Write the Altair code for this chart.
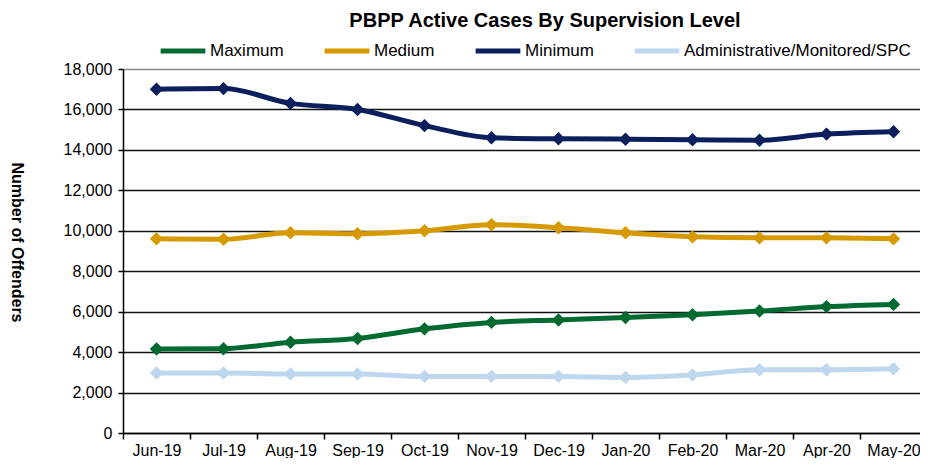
import altair as alt
import pandas as pd

months = ["Jun-19", "Jul-19", "Aug-19", "Sep-19", "Oct-19", "Nov-19",
          "Dec-19", "Jan-20", "Feb-20", "Mar-20", "Apr-20", "May-20"]
maximum = [4150, 4170, 4490, 4670, 5150, 5470, 5590, 5710, 5850, 6030, 6250, 6360]
medium = [9600, 9580, 9900, 9850, 10000, 10300, 10150, 9900, 9700, 9650, 9650, 9600]
minimum = [17000, 17030, 16300, 16000, 15200, 14600, 14550, 14530, 14500, 14480, 14780, 14900]
admin = [2970, 2970, 2920, 2920, 2800, 2800, 2800, 2750, 2870, 3130, 3130, 3180]

series_names = ["Maximum", "Medium", "Minimum", "Administrative/Monitored/SPC"]
line_colors = ["#006A30", "#D69A00", "#0B1F5C", "#BDD7EE"]
y_ticks = [0, 2000, 4000, 6000, 8000, 10000, 12000, 14000, 16000, 18000]

rows = []
for name, vals in zip(series_names, [maximum, medium, minimum, admin]):
    for m, v in zip(months, vals):
        rows.append({"Month": m, "Level": name, "Offenders": v})
df = pd.DataFrame(rows)

FONT = "Liberation Sans"

x_enc = alt.X(
    "Month:N", sort=months, bandPosition=0.5,
    scale=alt.Scale(type="band", paddingInner=0, paddingOuter=0),
    axis=alt.Axis(title=None, tickBand="extent", grid=False, labelAngle=0,
                  labelFontSize=16, labelFont=FONT, labelColor="black",
                  domainColor="black", domainWidth=1.5, tickColor="black",
                  tickWidth=1.5, tickSize=6, labelPadding=3),
)
y_enc = alt.Y(
    "Offenders:Q",
    scale=alt.Scale(domain=[0, 18000], nice=False),
    axis=alt.Axis(values=y_ticks, format=",.0f", title="Number of Offenders",
                  titleAngle=90, titleX=-115, titleY=173, titleFontSize=16,
                  titleFont=FONT, titleFontWeight="bold", titleColor="black",
                  labelFontSize=16, labelFont=FONT, labelColor="black",
                  labelPadding=6, domainColor="black", domainWidth=1.5,
                  tickColor="black", tickWidth=1.5, tickSize=5,
                  gridColor={"condition": {"test": "datum.value == 18000", "value": "#888888"},
                             "value": "#111111"},
                  gridWidth=1.5),
)
color_scale = alt.Scale(domain=series_names, range=line_colors)

lines = alt.Chart(df).mark_line(interpolate="monotone", strokeWidth=5).encode(
    x=x_enc, y=y_enc,
    color=alt.Color("Level:N", scale=color_scale, sort=series_names,
                    legend=alt.Legend(title=None, orient="none", direction="horizontal",
                                      legendX=35, legendY=-43,
                                      symbolType="stroke", symbolStrokeWidth=5,
                                      symbolSize=2000, labelFontSize=17, labelFont=FONT,
                                      labelColor="black", columnPadding=30,
                                      labelOffset=2, labelLimit=0)),
)
points = alt.Chart(df).mark_point(shape="diamond", filled=True, size=180, opacity=1).encode(
    x=x_enc, y=y_enc,
    color=alt.Color("Level:N", scale=color_scale, legend=None),
)

chart = alt.layer(lines, points).properties(
    width=804, height=364,
    title=alt.TitleParams("PBPP Active Cases By Supervision Level", fontSize=20,
                          font=FONT, fontWeight="bold", color="black",
                          anchor="middle", dx=20, offset=-5),
    autosize=alt.AutoSizeParams(type="none"),
    padding={"left": 115, "top": 61, "right": -7, "bottom": 25},
).configure_view(stroke=None)

chart.save("out.html", embed_options={"renderer": "svg", "actions": False})
